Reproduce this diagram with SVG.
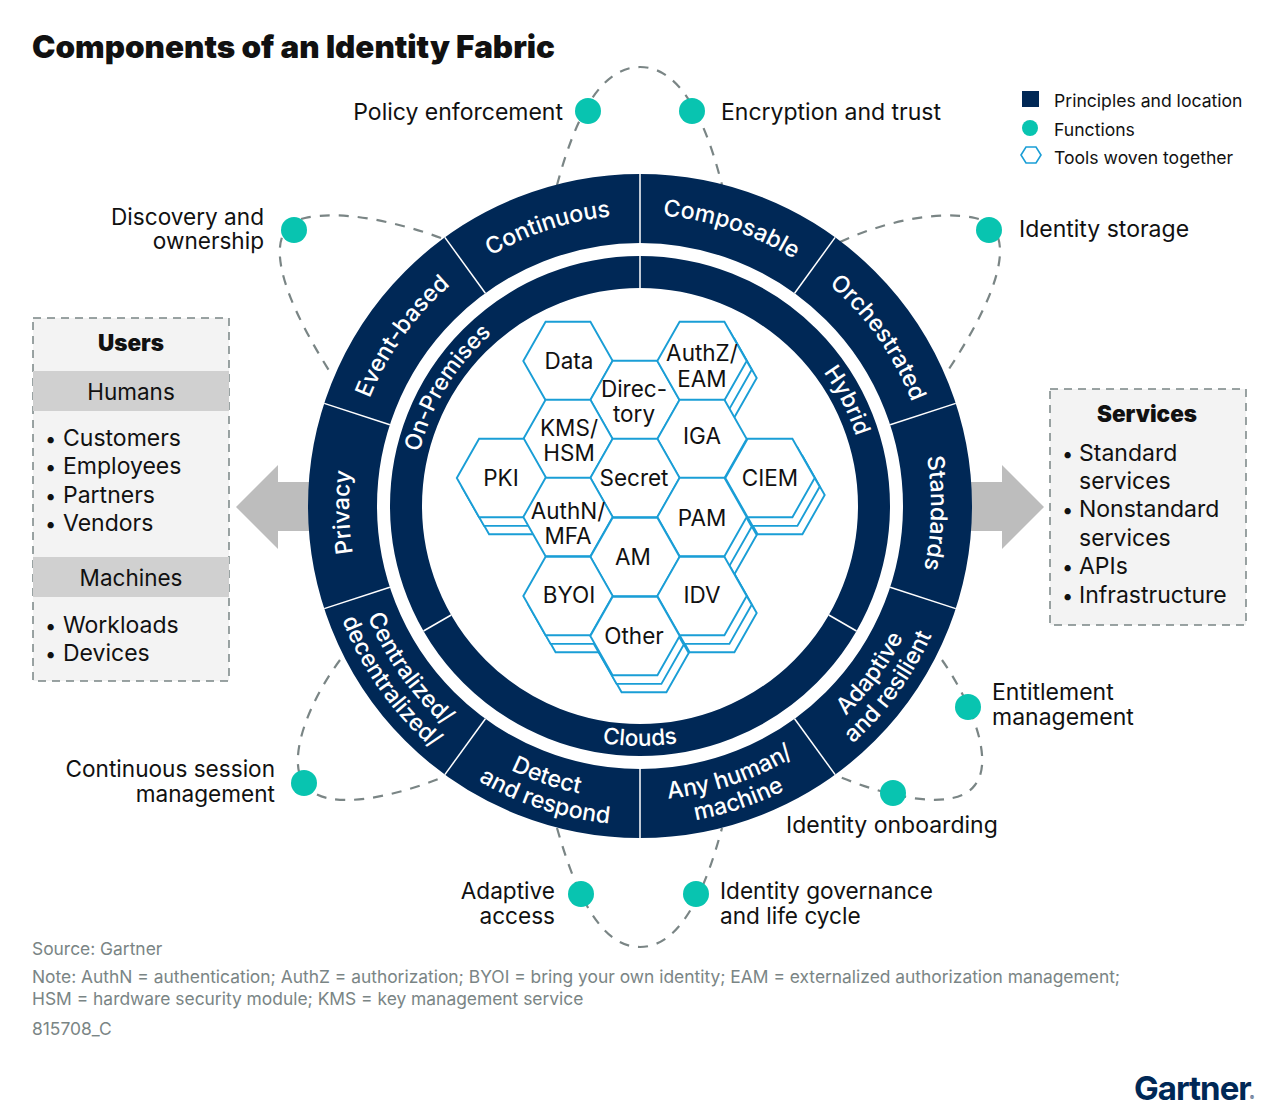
<svg xmlns="http://www.w3.org/2000/svg" width="1280" height="1115" viewBox="0 0 1280 1115">
<style>
text{font-family:Inter,"Liberation Sans",sans-serif;fill:#111}
.t{font-size:23px}
.n{font-size:22.6px}
.h{font-size:22.5px;text-anchor:middle}
.e{text-anchor:end}
.u{font-size:20px}
.r{font-size:23.2px;font-weight:500;fill:#fff;text-anchor:middle}
.c{font-size:22.6px;font-weight:500;fill:#fff;text-anchor:middle}
.f{font-size:17.4px;fill:#7a8585}
.l{font-size:17.6px}
.d{fill:#08c4b0}
.hx{fill:#fff;stroke:#1a9ed6;stroke-width:1.9}
.o{fill:none;stroke:#7a8585;stroke-width:2.2;stroke-dasharray:10 9}
.s{stroke:#fff;stroke-width:1.5}
.b{fill:#f3f3f3;stroke:#7a8585;stroke-width:1.5;stroke-dasharray:8 6}
</style>
<defs>
<polygon id="hex" points="-44.7,0 -22.4,-39.2 22.4,-39.2 44.7,0 22.4,39.2 -22.4,39.2"/>
<path id="cw291" d="M349 506A291 291 0 0 1 931 506"/>
<path id="cw227" d="M413 506A227 227 0 0 1 867 506"/>
<path id="ccw240" d="M400 506A240 240 0 0 0 880 506"/>
<path id="ccw294" d="M346 506A294 294 0 0 0 934 506"/>
<path id="ccw319" d="M321 506A319 319 0 0 0 959 506"/>
</defs>
<text x="32" y="58" style="font-size:31.4px;font-weight:900">Components of an Identity Fabric</text>
<g id="connectors">
<path class="o" d="M557 185C572 130 596 67 640 67C684 67 708 130 722 185"/>
<path class="o" d="M441 238C395 221 340 210 305 218C265 227 272 280 330 372"/>
<path class="o" d="M840 242C885 221 940 210 975 218C1015 227 1008 280 947 372"/>
<path class="o" d="M942 660C970 700 995 760 975 785C955 812 890 798 835 775"/>
<path class="o" d="M340 660C310 700 285 760 305 785C325 812 390 798 441 778"/>
<path class="o" d="M557 828C572 880 596 947 640 947C684 947 708 880 722 828"/>
</g>
<g id="arrow-users"><polygon points="236,507 278,465 278,482 320,482 320,531 278,531 278,549" fill="#bdbdbd"/></g>
<g id="arrow-services"><polygon points="1044,507 1002,465 1002,482 960,482 960,531 1002,531 1002,549" fill="#bdbdbd"/></g>
<g id="rings">
<circle cx="640" cy="506" r="297.5" fill="none" stroke="#002856" stroke-width="69"/>
<circle cx="640" cy="506" r="234" fill="none" stroke="#002856" stroke-width="32"/>
<g class="s">
<line x1="640" y1="174" x2="640" y2="243"/>
<line x1="640" y1="174" x2="640" y2="243" transform="rotate(36 640 506)"/>
<line x1="640" y1="174" x2="640" y2="243" transform="rotate(72 640 506)"/>
<line x1="640" y1="174" x2="640" y2="243" transform="rotate(108 640 506)"/>
<line x1="640" y1="174" x2="640" y2="243" transform="rotate(144 640 506)"/>
<line x1="640" y1="174" x2="640" y2="243" transform="rotate(180 640 506)"/>
<line x1="640" y1="174" x2="640" y2="243" transform="rotate(216 640 506)"/>
<line x1="640" y1="174" x2="640" y2="243" transform="rotate(252 640 506)"/>
<line x1="640" y1="174" x2="640" y2="243" transform="rotate(288 640 506)"/>
<line x1="640" y1="174" x2="640" y2="243" transform="rotate(324 640 506)"/>
<line x1="640" y1="256" x2="640" y2="288"/>
<line x1="640" y1="256" x2="640" y2="288" transform="rotate(120 640 506)"/>
<line x1="640" y1="256" x2="640" y2="288" transform="rotate(240 640 506)"/>
</g>
</g>
<g id="principles">
<g transform="rotate(-18.3 640 506)"><text class="r"><textPath href="#cw291" startOffset="50%">Continuous</textPath></text></g>
<g transform="rotate(18.2 640 506)"><text class="r"><textPath href="#cw291" startOffset="50%">Composable</textPath></text></g>
<g transform="rotate(54.8 640 506)"><text class="r"><textPath href="#cw291" startOffset="50%">Orchestrated</textPath></text></g>
<g transform="rotate(91.4 640 506)"><text class="r"><textPath href="#cw291" startOffset="50%">Standards</textPath></text></g>
<g transform="rotate(-91.2 640 506)"><text class="r"><textPath href="#cw291" startOffset="50%">Privacy</textPath></text></g>
<g transform="rotate(-54.5 640 506)"><text class="r"><textPath href="#cw291" startOffset="50%">Event-based</textPath></text></g>
<g transform="rotate(-54 640 506)"><text class="r"><textPath href="#ccw294" startOffset="50%">Adaptive</textPath></text><text class="r"><textPath href="#ccw319" startOffset="50%">and resilient</textPath></text></g>
<g transform="rotate(-18.5 640 506)"><text class="r"><textPath href="#ccw294" startOffset="50%">Any human/</textPath></text><text class="r"><textPath href="#ccw319" startOffset="50%">machine</textPath></text></g>
<g transform="rotate(19 640 506)"><text class="r"><textPath href="#ccw294" startOffset="50%">Detect</textPath></text></g>
<g transform="rotate(18 640 506)"><text class="r"><textPath href="#ccw319" startOffset="50%">and respond</textPath></text></g>
<g transform="rotate(54.8 640 506)"><text class="r"><textPath href="#ccw294" startOffset="50%">Centralized/</textPath></text><text class="r"><textPath href="#ccw319" startOffset="50%">decentralized/</textPath></text></g>
<g transform="rotate(-58.5 640 506)"><text class="c"><textPath href="#cw227" startOffset="50%">On-Premises</textPath></text></g>
<g transform="rotate(63 640 506)"><text class="c"><textPath href="#cw227" startOffset="50%">Hybrid</textPath></text></g>
<text class="c"><textPath href="#ccw240" startOffset="50%">Clouds</textPath></text>
</g>
<g id="stacks">
<use href="#hex" class="hx" transform="translate(511.5 495)"/><use href="#hex" class="hx" transform="translate(506.5 486.7)"/>
<use href="#hex" class="hx" transform="translate(578 613)"/><use href="#hex" class="hx" transform="translate(573 604.7)"/>
<use href="#hex" class="hx" transform="translate(712 378)"/><use href="#hex" class="hx" transform="translate(707 369.7)"/>
<use href="#hex" class="hx" transform="translate(712 535)"/><use href="#hex" class="hx" transform="translate(707 526.7)"/>
<use href="#hex" class="hx" transform="translate(780 495)"/><use href="#hex" class="hx" transform="translate(775 486.7)"/>
<use href="#hex" class="hx" transform="translate(712 613)"/><use href="#hex" class="hx" transform="translate(707 604.7)"/>
<use href="#hex" class="hx" transform="translate(644 653)"/><use href="#hex" class="hx" transform="translate(639 644.7)"/>
</g>
<g id="n-data"><use href="#hex" class="hx" x="568" y="361"/><text class="h" x="569" y="369">Data</text></g>
<g id="n-directory"><use href="#hex" class="hx" x="635" y="400"/><text class="h" x="634" y="397">Direc-</text><text class="h" x="634" y="422">tory</text></g>
<g id="n-authz"><use href="#hex" class="hx" x="702" y="361"/><text class="h" x="702" y="361">AuthZ/</text><text class="h" x="702" y="387">EAM</text></g>
<g id="n-kms"><use href="#hex" class="hx" x="568" y="439"/><text class="h" x="569" y="436">KMS/</text><text class="h" x="569" y="461">HSM</text></g>
<g id="n-iga"><use href="#hex" class="hx" x="702" y="439"/><text class="h" x="702" y="444">IGA</text></g>
<g id="n-pki"><use href="#hex" class="hx" x="501.5" y="478"/><text class="h" x="501" y="486">PKI</text></g>
<g id="n-secret"><use href="#hex" class="hx" x="635" y="478"/><text class="h" x="634" y="486">Secret</text></g>
<g id="n-ciem"><use href="#hex" class="hx" x="770" y="478"/><text class="h" x="770" y="486">CIEM</text></g>
<g id="n-authn"><use href="#hex" class="hx" x="568" y="517"/><text class="h" x="568" y="519">AuthN/</text><text class="h" x="568" y="544">MFA</text></g>
<g id="n-pam"><use href="#hex" class="hx" x="702" y="517"/><text class="h" x="702" y="526">PAM</text></g>
<g id="n-am"><use href="#hex" class="hx" x="635" y="557"/><text class="h" x="633" y="565">AM</text></g>
<g id="n-byoi"><use href="#hex" class="hx" x="568" y="596"/><text class="h" x="569" y="603">BYOI</text></g>
<g id="n-idv"><use href="#hex" class="hx" x="702" y="596"/><text class="h" x="702" y="603">IDV</text></g>
<g id="n-other"><use href="#hex" class="hx" x="635" y="636"/><text class="h" x="634" y="644">Other</text></g>
<g id="f-policy"><circle class="d" cx="588" cy="111" r="13"/><text class="t e" x="563" y="120">Policy enforcement</text></g>
<g id="f-encryption"><circle class="d" cx="692" cy="111" r="13"/><text class="t" x="721" y="120">Encryption and trust</text></g>
<g id="f-discovery"><circle class="d" cx="294" cy="230" r="13"/><text class="n e" x="264" y="225">Discovery and</text><text class="n e" x="264" y="249">ownership</text></g>
<g id="f-storage"><circle class="d" cx="989" cy="230" r="13"/><text class="t" x="1019" y="237">Identity storage</text></g>
<g id="f-entitlement"><circle class="d" cx="968" cy="707" r="13"/><text class="t" x="992" y="700">Entitlement</text><text class="t" x="992" y="725">management</text></g>
<g id="f-onboarding"><circle class="d" cx="893" cy="793" r="13"/><text class="t" x="786" y="833">Identity onboarding</text></g>
<g id="f-session"><circle class="d" cx="304" cy="783" r="13"/><text class="n e" x="275" y="777">Continuous session</text><text class="n e" x="275" y="802">management</text></g>
<g id="f-adaptive"><circle class="d" cx="581" cy="894" r="13"/><text class="n e" x="555" y="899">Adaptive</text><text class="n e" x="555" y="924">access</text></g>
<g id="f-governance"><circle class="d" cx="696" cy="894" r="13"/><text class="n" x="720" y="899">Identity governance</text><text class="n" x="720" y="924">and life cycle</text></g>
<g id="legend">
<rect x="1022" y="91" width="17" height="16" fill="#002856"/>
<circle class="d" cx="1030" cy="128" r="8"/>
<polygon points="1021,155 1026,147 1036,147 1041,155 1036,163 1026,163" fill="#fff" stroke="#1a9ed6" stroke-width="1.6"/>
<text class="l" x="1054" y="107">Principles and location</text>
<text class="l" x="1054" y="136">Functions</text>
<text class="l" x="1054" y="164">Tools woven together</text>
</g>
<g id="users">
<rect class="b" x="33" y="318" width="196" height="363"/>
<rect x="33" y="371" width="196" height="40" fill="#d0d0d0"/>
<rect x="33" y="557" width="196" height="40" fill="#d0d0d0"/>
<text class="h" x="131" y="351" style="font-weight:900">Users</text>
<text class="h" x="131" y="400">Humans</text>
<text class="h" x="131" y="586">Machines</text>
<text class="u" x="45" y="446">•</text><text class="t" x="63" y="446">Customers</text>
<text class="u" x="45" y="474">•</text><text class="t" x="63" y="474">Employees</text>
<text class="u" x="45" y="503">•</text><text class="t" x="63" y="503">Partners</text>
<text class="u" x="45" y="531">•</text><text class="t" x="63" y="531">Vendors</text>
<text class="u" x="45" y="633">•</text><text class="t" x="63" y="633">Workloads</text>
<text class="u" x="45" y="661">•</text><text class="t" x="63" y="661">Devices</text>
</g>
<g id="services">
<rect class="b" x="1050" y="389" width="196" height="236"/>
<text class="h" x="1147" y="422" style="font-weight:900">Services</text>
<text class="u" x="1062" y="461">•</text><text class="t" x="1079" y="461">Standard</text>
<text class="t" x="1079" y="489">services</text>
<text class="u" x="1062" y="517">•</text><text class="t" x="1079" y="517">Nonstandard</text>
<text class="t" x="1079" y="546">services</text>
<text class="u" x="1062" y="574">•</text><text class="t" x="1079" y="574">APIs</text>
<text class="u" x="1062" y="603">•</text><text class="t" x="1079" y="603">Infrastructure</text>
</g>
<g id="footer">
<text class="f" x="32" y="955">Source: Gartner</text>
<text class="f" x="32" y="983">Note: AuthN = authentication; AuthZ = authorization; BYOI = bring your own identity; EAM = externalized authorization management;</text>
<text class="f" x="32" y="1005">HSM = hardware security module; KMS = key management service</text>
<text class="f" x="32" y="1035">815708_C</text>
<text x="1134" y="1100" style="font-size:33px;font-weight:700;fill:#002856;letter-spacing:-1px">Gartner</text>
<text x="1250" y="1100" style="font-size:6px;fill:#002856">®</text>
</g>
</svg>
